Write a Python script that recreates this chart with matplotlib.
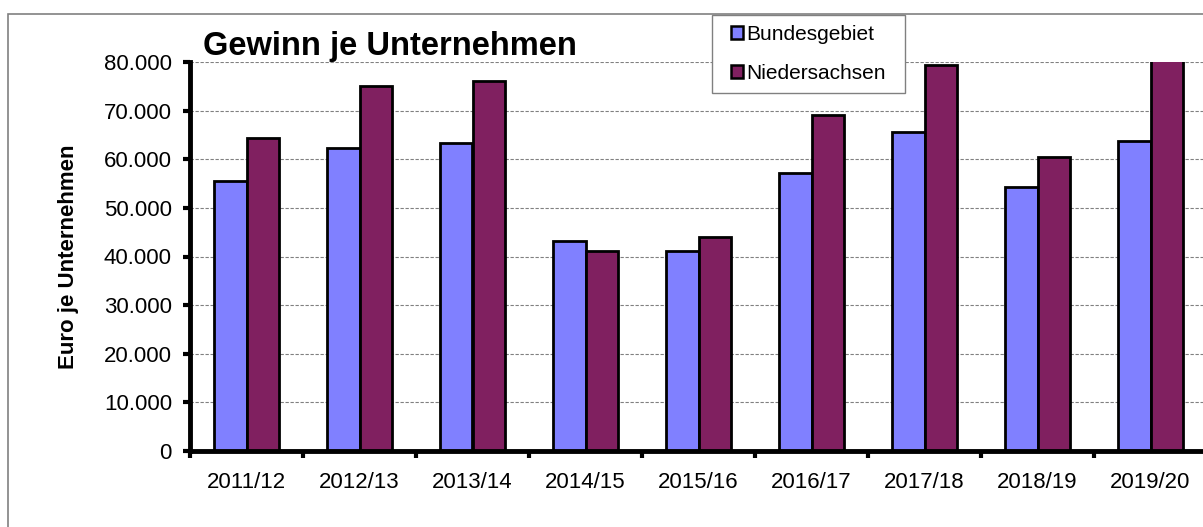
import numpy as np
import matplotlib.pyplot as plt
from matplotlib.patches import Rectangle
from matplotlib.ticker import FuncFormatter

plt.rcParams['font.family'] = ['Liberation Sans', 'DejaVu Sans']

jahre = ['2011/12', '2012/13', '2013/14', '2014/15', '2015/16',
         '2016/17', '2017/18', '2018/19', '2019/20']
bundesgebiet = [55500, 62300, 63300, 43100, 41100, 57100, 65600, 54300, 63700]
niedersachsen = [64400, 75000, 76000, 41100, 44000, 69200, 79300, 60400, 82500]

blau = '#8080ff'
lila = '#802060'

W, H = 1203, 527
fig = plt.figure(figsize=(W / 100, H / 100), dpi=100)

# grauer Rahmen um das ganze Diagramm (rechts und unten abgeschnitten)
fig.add_artist(Rectangle((8 / W, -0.1), 1.1, 1.1 - 14 / H,
                         transform=fig.transFigure, fill=False,
                         edgecolor='#808080', linewidth=1.2))

ax = fig.add_axes([190 / W, 76 / H, 1017 / W, 389 / H])

x = np.arange(len(jahre))
b = 0.285
ax.bar(x - b / 2, bundesgebiet, b, color=blau, edgecolor='black',
       linewidth=2.0, label='Bundesgebiet', zorder=3)
ax.bar(x + b / 2, niedersachsen, b, color=lila, edgecolor='black',
       linewidth=2.0, label='Niedersachsen', zorder=3)

ax.set_xlim(-0.5, len(jahre) - 0.5)
ax.set_ylim(0, 80000)

ax.set_yticks(np.arange(0, 80001, 10000))
ax.yaxis.set_major_formatter(FuncFormatter(lambda v, p: f'{int(v):,}'.replace(',', '.')))
ax.grid(axis='y', color='#808080', linestyle=(0, (3, 1.5)), linewidth=0.8, zorder=0)

# Striche zwischen den Kategorien, Beschriftung in der Mitte
ax.set_xticks(np.arange(-0.5, len(jahre), 1.0))
ax.set_xticklabels([])
ax.set_xticks(x, minor=True)
ax.set_xticklabels(jahre, minor=True)
ax.tick_params(axis='x', which='minor', length=0, pad=15, labelsize=16)
ax.tick_params(axis='x', which='major', length=5, width=3, direction='out')
ax.tick_params(axis='y', length=5, width=3, direction='out', pad=8, labelsize=16)

for s in ['top', 'right']:
    ax.spines[s].set_visible(False)
for s in ['left', 'bottom']:
    ax.spines[s].set_linewidth(3.5)
    ax.spines[s].set_zorder(4)

ax.set_ylabel('Euro je Unternehmen', fontsize=16, fontweight='bold')
ax.yaxis.set_label_coords((79 - 190) / 1017, 0.5)

fig.text(203 / W, 1 - 55 / H, 'Gewinn je Unternehmen', fontsize=23.5,
         fontweight='bold', va='baseline', ha='left')

# Legende ohne eigenen Rahmen, Kasten separat
leg = fig.legend(loc='upper left', bbox_to_anchor=(731 / W, 1 - 25 / H),
                 fontsize=15, handlelength=0.58, handleheight=0.58,
                 handletextpad=0.15, labelspacing=0.95, borderpad=0,
                 borderaxespad=0, frameon=False)
for h in leg.legend_handles:
    h.set_linewidth(1.8)
fig.add_artist(Rectangle((712 / W, 1 - 93 / H), 193 / W, 78 / H,
                         transform=fig.transFigure, fill=True, facecolor='white',
                         edgecolor='#808080', linewidth=1.0, zorder=1))
leg.set_zorder(2)

fig.savefig('out.png', dpi=100)
